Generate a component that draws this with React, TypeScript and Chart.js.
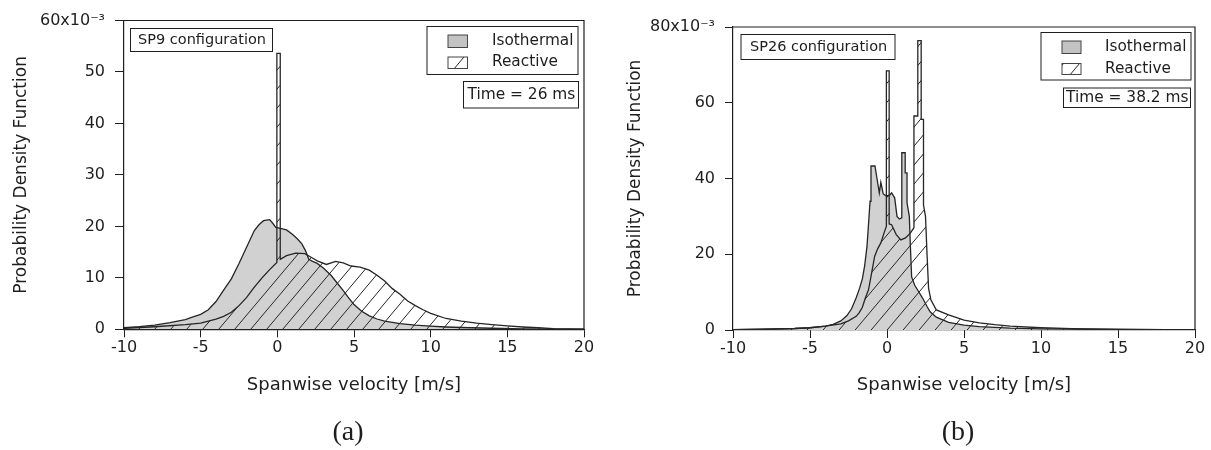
import React, { useEffect, useRef } from "react";
import { Chart, registerables } from "chart.js";

Chart.register(...registerables);

const FONT = "'DejaVu Sans', 'Liberation Sans', sans-serif";
const INK = "#1e1e1e";
const GRAY = "#d1d1d1";
const SWATCH_GRAY = "#c3c3c3";

// shared axes
const X_MIN = -10;
const X_MAX = 20;
const X_STEP = 5;
const X_TITLE = "Spanwise velocity [m/s]";
const Y_TITLE = "Probability Density Function";
const SERIES_NAMES = ["Isothermal", "Reactive"];

// ---------- panel (a) ----------
const A_CONFIG = "SP9 configuration";
const A_TIME = "Time = 26 ms";
const A_CAPTION = "(a)";
const A_Y_MAX = 60;
const A_Y_STEP = 10;
const A_Y_TOP_LABEL = "60x10⁻³";

const isoA_v = [-10, -9, -8, -7, -6, -5.5, -5, -4.5, -4, -3.5, -3, -2.5, -2, -1.5, -1.2, -0.9, -0.5, -0.3, -0.1, 0.2, 0.6, 1.0, 1.3, 1.6, 1.85, 2.05, 2.3, 2.6, 3.0, 3.5, 3.9, 4.3, 4.6, 5.0, 5.5, 6.0, 6.5, 7.0, 8.0, 9.0, 10, 11, 12, 14, 16, 18, 20];
const isoA_p = [0.3, 0.5, 0.8, 1.3, 1.9, 2.4, 2.9, 3.8, 5.4, 7.6, 9.8, 12.8, 16.0, 19.2, 20.3, 21.1, 21.3, 20.6, 19.8, 19.6, 19.3, 18.4, 17.6, 16.6, 15.2, 13.6, 13.2, 12.8, 11.9, 10.5, 9.0, 7.5, 6.3, 4.8, 3.5, 2.6, 2.0, 1.6, 1.1, 0.8, 0.6, 0.45, 0.35, 0.2, 0.1, 0.05, 0.02];

const reaA_v = [-10, -8, -6, -5, -4, -3.5, -3, -2.5, -2, -1.5, -1, -0.5, -0.03, -0.03, 0.19, 0.19, 0.6, 1.2, 1.8, 2.2, 2.6, 3.2, 3.8, 4.3, 4.8, 5.4, 6.0, 6.5, 7.0, 7.5, 8.0, 8.5, 9.0, 9.5, 10, 11, 12, 13, 14, 15, 16, 17, 18, 19, 20];
const reaA_p = [0.2, 0.5, 0.9, 1.2, 2.0, 2.5, 3.3, 4.6, 6.2, 8.2, 10.0, 11.6, 13.0, 53.6, 53.6, 13.6, 14.3, 14.8, 14.7, 14.0, 13.3, 12.6, 13.2, 12.9, 12.3, 12.1, 11.5, 10.5, 9.4, 7.9, 6.8, 5.5, 4.6, 3.8, 3.1, 2.1, 1.6, 1.2, 0.9, 0.65, 0.45, 0.3, 0.15, 0.08, 0.05];

// ---------- panel (b) ----------
const B_CONFIG = "SP26 configuration";
const B_TIME = "Time = 38.2 ms";
const B_CAPTION = "(b)";
const B_Y_MAX = 80;
const B_Y_STEP = 20;
const B_Y_TOP_LABEL = "80x10⁻³";

const isoB_v = [-10, -8, -6, -5, -4, -3.5, -3, -2.6, -2.3, -2.0, -1.8, -1.6, -1.45, -1.3, -1.2, -1.1, -1.04, -1.04, -0.78, -0.65, -0.5, -0.4, -0.25, -0.1, 0.15, 0.3, 0.5, 0.65, 0.8, 0.96, 0.96, 1.18, 1.18, 1.3, 1.3, 1.45, 1.5, 1.6, 1.8, 2.0, 2.3, 2.6, 2.8, 3.2, 4.0, 5.0, 6.0, 8.0, 10, 15, 20];
const isoB_p = [0.1, 0.2, 0.4, 0.6, 1.0, 1.5, 2.4, 3.8, 5.6, 8.5, 10.8, 13.5, 17, 22, 28, 34, 36, 43.3, 43.3, 40, 36.2, 39, 36, 35.5, 35.5, 36.2, 34.9, 30, 29.3, 29.6, 46.8, 46.8, 41.5, 41.5, 33.6, 30, 24, 14, 11.8, 10.5, 8.5, 6.2, 4.8, 3.4, 2.0, 1.3, 0.9, 0.5, 0.3, 0.1, 0.02];

const reaB_v = [-10, -8, -6, -5, -4, -3, -2.5, -2.0, -1.8, -1.6, -1.4, -1.2, -1.0, -0.8, -0.6, -0.4, -0.2, -0.04, -0.04, 0.14, 0.14, 0.3, 0.6, 0.9, 1.2, 1.5, 1.75, 1.75, 2.0, 2.0, 2.22, 2.22, 2.37, 2.37, 2.5, 2.6, 2.7, 2.85, 3.2, 4.0, 5.0, 6.0, 7.0, 8.0, 10, 12, 15, 18, 20];
const reaB_p = [0.1, 0.2, 0.4, 0.6, 1.0, 1.6, 2.4, 3.6, 4.6, 6.0, 8.5, 10.6, 15, 19.5, 21.5, 23, 25.5, 27.4, 68.4, 68.4, 28, 27.8, 25.2, 23.8, 24.3, 25.5, 27, 56.5, 56.5, 76.4, 76.4, 55.6, 55.6, 33, 30, 20, 11, 8, 5.3, 4.0, 2.6, 1.9, 1.4, 1.0, 0.6, 0.35, 0.2, 0.08, 0.03];

const zip = (xs: number[], ys: number[]) => xs.map((x, i) => ({ x, y: ys[i] }));

function makeHatch(): CanvasPattern | string {
  const w = 16;
  const h = 19;
  const c = document.createElement("canvas");
  c.width = w;
  c.height = h;
  const g = c.getContext("2d");
  if (!g) return "transparent";
  g.strokeStyle = "#262626";
  g.lineWidth = 1;
  for (const d of [-1, 0, 1]) {
    g.beginPath();
    g.moveTo(d * w, h);
    g.lineTo(d * w + w, 0);
    g.stroke();
  }
  const p = g.createPattern(c, "repeat");
  return p || "transparent";
}

type Panel = {
  left: number;
  width: number;
  yAxisWidth: number;
  padTop: number;
  padRight: number;
  xAxisHeight: number;
  yTitlePad: number;
  yTickLen: number;
  yMax: number;
  yStep: number;
  yTop: string;
  iso: { x: number; y: number }[];
  rea: { x: number; y: number }[];
  config: string;
  time: string;
  caption: string;
  cfgBox: number[];
  cfgText: number[];
  legBox: number[];
  sw1: number[];
  sw2: number[];
  legX: number;
  legY: number[];
  timeBox: number[];
  timeText: number[];
  capPos: number[];
};

const PANELS: Panel[] = [
  {
    left: 0,
    width: 605,
    yAxisWidth: 124,
    padTop: 20.5,
    padRight: 21,
    xAxisHeight: 120.7,
    yTitlePad: 11,
    yTickLen: 9,
    yMax: A_Y_MAX,
    yStep: A_Y_STEP,
    yTop: A_Y_TOP_LABEL,
    iso: zip(isoA_v, isoA_p),
    rea: zip(reaA_v, reaA_p),
    config: A_CONFIG,
    time: A_TIME,
    caption: A_CAPTION,
    cfgBox: [130.5, 28.5, 142, 23],
    cfgText: [138, 40.5],
    legBox: [427, 26.5, 151, 48],
    sw1: [448, 35, 19.5, 12.5],
    sw2: [448, 57, 19.5, 11.5],
    legX: 492,
    legY: [41, 62.5],
    timeBox: [463.5, 81.5, 115, 26.5],
    timeText: [467.5, 95],
    capPos: [348, 433],
  },
  {
    left: 605,
    width: 606,
    yAxisWidth: 128,
    padTop: 27,
    padRight: 16,
    xAxisHeight: 120,
    yTitlePad: 20,
    yTickLen: 8,
    yMax: B_Y_MAX,
    yStep: B_Y_STEP,
    yTop: B_Y_TOP_LABEL,
    iso: zip(isoB_v, isoB_p),
    rea: zip(reaB_v, reaB_p),
    config: B_CONFIG,
    time: B_TIME,
    caption: B_CAPTION,
    cfgBox: [136, 34.5, 154, 25],
    cfgText: [145, 47],
    legBox: [436, 32.5, 150, 47.5],
    sw1: [457, 41, 19, 12.5],
    sw2: [457, 63.5, 19, 11],
    legX: 500,
    legY: [47.3, 69],
    timeBox: [458.5, 88, 127, 19.5],
    timeText: [461, 97.7],
    capPos: [353, 433],
  },
];

function PanelChart({ p }: { p: Panel }) {
  const ref = useRef<HTMLCanvasElement | null>(null);
  useEffect(() => {
    const canvas = ref.current;
    if (!canvas) return;
    const hatch = makeHatch();
    const annot = {
      id: "annot",
      afterDraw(chart: any) {
        const ctx: CanvasRenderingContext2D = chart.ctx;
        const ca = chart.chartArea;
        ctx.save();
        ctx.strokeStyle = INK;
        ctx.lineWidth = 1.2;
        ctx.beginPath();
        ctx.moveTo(ca.left, ca.top);
        ctx.lineTo(ca.right, ca.top);
        ctx.lineTo(ca.right, ca.bottom);
        ctx.stroke();

        ctx.lineWidth = 1;
        ctx.fillStyle = "#ffffff";
        ctx.fillRect(p.cfgBox[0], p.cfgBox[1], p.cfgBox[2], p.cfgBox[3]);
        ctx.strokeRect(p.cfgBox[0], p.cfgBox[1], p.cfgBox[2], p.cfgBox[3]);
        ctx.fillRect(p.legBox[0], p.legBox[1], p.legBox[2], p.legBox[3]);
        ctx.strokeRect(p.legBox[0], p.legBox[1], p.legBox[2], p.legBox[3]);
        ctx.fillRect(p.timeBox[0], p.timeBox[1], p.timeBox[2], p.timeBox[3]);
        ctx.strokeRect(p.timeBox[0], p.timeBox[1], p.timeBox[2], p.timeBox[3]);

        ctx.fillStyle = SWATCH_GRAY;
        ctx.fillRect(p.sw1[0], p.sw1[1], p.sw1[2], p.sw1[3]);
        ctx.strokeStyle = "#444";
        ctx.strokeRect(p.sw1[0], p.sw1[1], p.sw1[2], p.sw1[3]);
        ctx.fillStyle = hatch as any;
        ctx.fillRect(p.sw2[0], p.sw2[1], p.sw2[2], p.sw2[3]);
        ctx.strokeRect(p.sw2[0], p.sw2[1], p.sw2[2], p.sw2[3]);

        ctx.fillStyle = INK;
        ctx.textBaseline = "middle";
        ctx.textAlign = "left";
        ctx.font = `14.5px ${FONT}`;
        ctx.fillText(p.config, p.cfgText[0], p.cfgText[1]);
        ctx.font = `15.3px ${FONT}`;
        ctx.fillText(SERIES_NAMES[0], p.legX, p.legY[0]);
        ctx.fillText(SERIES_NAMES[1], p.legX, p.legY[1]);
        ctx.font = `15.4px ${FONT}`;
        ctx.fillText(p.time, p.timeText[0], p.timeText[1]);

        ctx.textAlign = "center";
        ctx.font = `28px 'Liberation Serif', 'DejaVu Serif', serif`;
        ctx.fillText(p.caption, p.capPos[0], p.capPos[1]);
        ctx.restore();
      },
    };

    const chart = new Chart(canvas, {
      type: "line",
      data: {
        datasets: [
          {
            label: SERIES_NAMES[1],
            data: p.rea,
            borderColor: "#262626",
            borderWidth: 1.3,
            backgroundColor: hatch as any,
            fill: "origin",
            pointRadius: 0,
            tension: 0,
            order: 0,
          },
          {
            label: SERIES_NAMES[0],
            data: p.iso,
            borderColor: "#262626",
            borderWidth: 1.3,
            backgroundColor: GRAY,
            fill: "origin",
            pointRadius: 0,
            tension: 0,
            order: 1,
          },
        ],
      },
      options: {
        animation: false,
        responsive: false,
        devicePixelRatio: 1,
        events: [],
        layout: { padding: { top: p.padTop, right: p.padRight, left: 0, bottom: 0 } },
        plugins: { legend: { display: false }, tooltip: { enabled: false } },
        scales: {
          x: {
            type: "linear",
            min: X_MIN,
            max: X_MAX,
            ticks: { stepSize: X_STEP, color: INK, font: { family: FONT, size: 16 }, padding: 1, maxRotation: 0 },
            grid: { drawOnChartArea: false, drawTicks: true, tickLength: 8, color: INK },
            border: { color: INK, width: 1.2 },
            title: {
              display: true,
              text: X_TITLE,
              color: INK,
              font: { family: FONT, size: 18 },
              padding: { top: 0, bottom: 54 },
            },
            afterFit: (s: any) => {
              s.height = p.xAxisHeight;
            },
          },
          y: {
            type: "linear",
            min: 0,
            max: p.yMax,
            ticks: {
              stepSize: p.yStep,
              color: INK,
              font: { family: FONT, size: 16 },
              padding: 10,
              callback: (v: any) => (Number(v) === p.yMax ? p.yTop : String(v)),
            },
            grid: { drawOnChartArea: false, drawTicks: true, tickLength: p.yTickLen, color: INK },
            border: { color: INK, width: 1.2 },
            title: {
              display: true,
              text: Y_TITLE,
              color: INK,
              font: { family: FONT, size: 17 },
              padding: { top: p.yTitlePad, bottom: 0 },
            },
            afterFit: (s: any) => {
              s.width = p.yAxisWidth;
            },
          },
        },
      } as any,
      plugins: [annot],
    });
    return () => chart.destroy();
  }, [p]);
  return (
    <canvas
      ref={ref}
      width={p.width}
      height={450}
      style={{ position: "absolute", left: p.left, top: 0, width: p.width, height: 450 }}
    />
  );
}

export default function App() {
  return (
    <div style={{ position: "absolute", left: 0, top: 0, width: 1211, height: 450, background: "#fff" }}>
      {PANELS.map((p, i) => (
        <PanelChart key={i} p={p} />
      ))}
    </div>
  );
}
